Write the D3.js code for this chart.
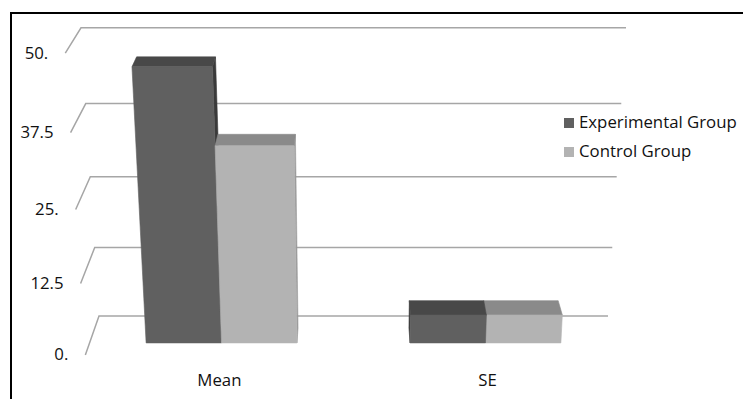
<!DOCTYPE html>
<html>
<head>
<meta charset="utf-8">
<script src="https://cdn.jsdelivr.net/npm/d3@7"></script>
<style>
  html, body { margin: 0; padding: 0; background: #fff; }
  svg { display: block; }
  text { font-family: "Open Sans", "Noto Sans", sans-serif; fill: #111; }
</style>
</head>
<body>
<svg id="chart" width="743" height="399"></svg>
<script>
// ---- data ----
const categories = ["Mean", "SE"];
const seriesNames = ["Experimental Group", "Control Group"];
const experimental = [46.6, 5.0];
const control = [33.9, 5.0];
const tickValues = [0, 12.5, 25, 37.5, 50];
const tickLabels = ["0.", "12.5", "25.", "37.5", "50."];

// ---- styles ----
const faceColors = [
  { front: "#606060", top: "#484848", side: "#3a3a3a" },
  { front: "#b3b3b3", top: "#8a8a8a", side: "#9a9a9a" }
];
const legendColors = ["#606060", "#b3b3b3"];
const fontSize = 16.8;

// ---- 3D scene: perspective camera pitched down toward the plot ----
const cam = { f: 1600.6, phi: 20.9 * Math.PI / 180, cx: 353.5, cy: 200, X: 0, Y: 679.3, Z: 1453.9 };
const W = 509, H = 296.3, D = 87.2;         // wall width, wall height, floor depth
const barZ0 = 28.2, barZ1 = 61.3;           // bar depth span

function project(X, Y, Z) {
  const dx = X - cam.X, dy = Y - cam.Y, dz = Z - cam.Z;
  const s = Math.sin(cam.phi), c = Math.cos(cam.phi);
  const depth = -dy * s - dz * c;
  const up = dy * c - dz * s;
  return [cam.cx + cam.f * dx / depth, cam.cy - cam.f * up / depth];
}

const yScale = d3.scaleLinear().domain([0, 50]).range([0, H]);
const xBand = d3.scaleBand().domain(categories).range([-W / 2, W / 2])
  .paddingInner(0.75 / 1.75).paddingOuter(0.375 / 1.75);
const xInner = d3.scaleBand().domain(seriesNames).range([0, xBand.bandwidth()]).padding(0);

const svg = d3.select("#chart");
const line = d3.line();

// outer frame
svg.append("rect")
  .attr("x", 11).attr("y", 13).attr("width", 800).attr("height", 500)
  .attr("fill", "none").attr("stroke", "#000").attr("stroke-width", 2);

// gridlines: side-wall segment then back-wall segment
const grid = svg.append("g");
tickValues.forEach((v, i) => {
  const y = yScale(v);
  const pts = [project(-W / 2, y, D), project(-W / 2, y, 0), project(W / 2, y, 0)];
  grid.append("path").attr("d", line(pts))
    .attr("fill", "none").attr("stroke", "#a6a6a6").attr("stroke-width", 1.5);
  const p = pts[0];
  grid.append("text")
    .attr("x", p[0] - 17).attr("y", p[1] + 1)
    .attr("text-anchor", "end").attr("dominant-baseline", "middle")
    .attr("font-size", fontSize).text(tickLabels[i]);
});

// bars
const bars = [];
categories.forEach((cat, ci) => {
  [experimental, control].forEach((vals, si) => {
    const x0 = xBand(cat) + xInner(seriesNames[si]);
    const x1 = x0 + xInner.bandwidth();
    bars.push({ x0, x1, v: vals[ci], si });
  });
});
// paint bars farther from the camera axis first
bars.sort((a, b) => Math.abs((b.x0 + b.x1) / 2) - Math.abs((a.x0 + a.x1) / 2));

const barG = svg.append("g");
bars.forEach(b => {
  const yt = yScale(b.v);
  const col = faceColors[b.si];
  const poly = (pts, fill) => barG.append("path")
    .attr("d", line(pts.map(p => project(...p))) + "Z")
    .attr("fill", fill).attr("stroke", fill).attr("stroke-width", 0.6);
  // side face toward the camera
  const sx = (b.x1 <= cam.X) ? b.x1 : b.x0;
  poly([[sx, 0, barZ0], [sx, yt, barZ0], [sx, yt, barZ1], [sx, 0, barZ1]], col.side);
  // top face
  poly([[b.x0, yt, barZ0], [b.x1, yt, barZ0], [b.x1, yt, barZ1], [b.x0, yt, barZ1]], col.top);
  // front face
  poly([[b.x0, 0, barZ1], [b.x1, 0, barZ1], [b.x1, yt, barZ1], [b.x0, yt, barZ1]], col.front);
});

// category labels
categories.forEach(cat => {
  const p = project(xBand(cat) + xBand.bandwidth() / 2, 0, D);
  svg.append("text")
    .attr("x", p[0]).attr("y", p[1] + 27)
    .attr("text-anchor", "middle").attr("dominant-baseline", "middle")
    .attr("font-size", fontSize).text(cat);
});

// legend
const legend = svg.append("g").attr("transform", "translate(564,118)");
seriesNames.forEach((name, i) => {
  const g = legend.append("g").attr("transform", `translate(0,${i * 29})`);
  g.append("rect").attr("width", 10).attr("height", 10).attr("fill", legendColors[i]);
  g.append("text").attr("x", 15).attr("y", 5)
    .attr("dominant-baseline", "middle").attr("font-size", fontSize).text(name);
});
</script>
</body>
</html>
